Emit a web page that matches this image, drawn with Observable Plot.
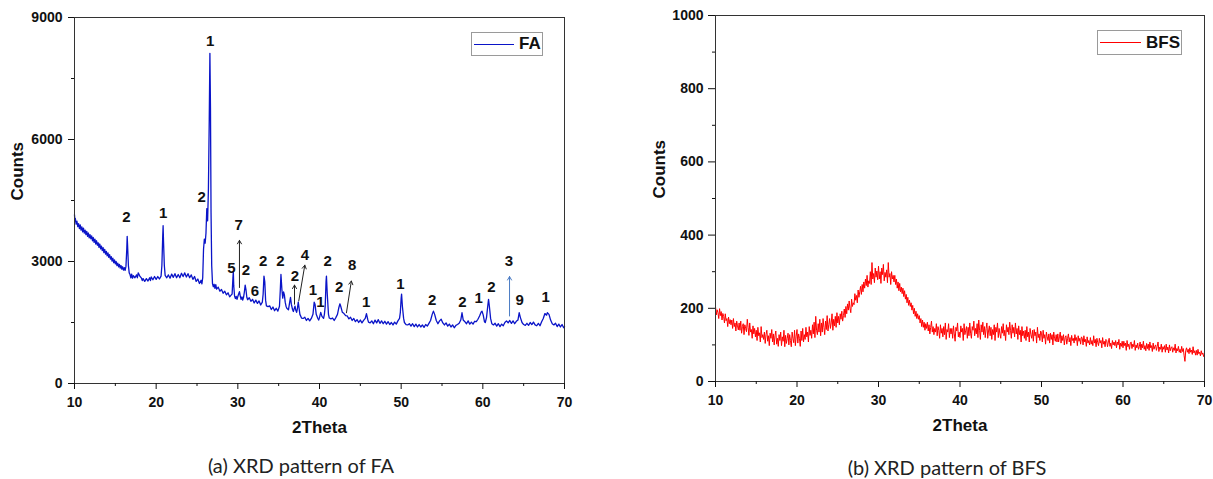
<!DOCTYPE html>
<html><head><meta charset="utf-8">
<script src="https://cdn.jsdelivr.net/npm/d3@7"></script>
<script src="https://cdn.jsdelivr.net/npm/@observablehq/plot@0.6"></script>
<style>
body{margin:0;background:#fff;width:1213px;height:479px;overflow:hidden;position:relative;font-family:"Liberation Sans",Arial,sans-serif;}
#a,#b{position:absolute;top:0}
#a{left:0}
#b{left:600px}
#a svg text,#b svg text{font-family:"Liberation Sans",Arial,sans-serif !important;font-weight:bold !important;fill:#111}
.cap{position:absolute;font-family:Lato,"Liberation Sans",sans-serif;font-size:20px;color:#222;transform:translate(-50%,-50%);white-space:nowrap}
.legend{position:absolute;border:1.5px solid #9a9a9a;background:#fff;box-sizing:border-box;display:flex;align-items:center;font-weight:bold;font-size:17px;color:#111}
.legend .ln{height:0;margin-left:2px;margin-right:5px}
</style>
</head><body>
<div id="a"></div>
<div id="b"></div>
<div class="legend" style="left:471px;top:32px;width:72px;height:24px"><div class="ln" style="width:40px;border-top:1.5px solid #0a14c8"></div><span>FA</span></div>
<div class="legend" style="left:1097px;top:30px;width:85px;height:25px"><div class="ln" style="width:41px;border-top:1.5px solid #ff0000"></div><span>BFS</span></div>
<div class="cap" style="left:301px;top:465px">(a) XRD pattern of FA</div>
<div class="cap" style="left:947px;top:467px">(b) XRD pattern of BFS</div>
<script>
// ---------- FA data: [2theta, counts] ----------
const faPattern = [
[10.0,4150],[10.05,3990],[10.1,4060],[10.2,3920],[10.3,3990],[10.4,3860],[10.5,3930],[10.6,3810],[10.7,3900],[10.8,3770],[10.9,3850],
[11.0,3730],[11.1,3820],[11.2,3700],[11.3,3770],[11.4,3660],[11.5,3740],[11.6,3620],[11.7,3700],[11.8,3580],[11.9,3660],
[12.0,3560],[12.1,3630],[12.2,3510],[12.3,3590],[12.4,3470],[12.5,3550],[12.6,3430],[12.7,3510],[12.8,3400],[12.9,3460],
[13.0,3350],[13.1,3430],[13.2,3310],[13.3,3380],[13.4,3270],[13.5,3340],[13.6,3220],[13.7,3300],[13.8,3180],[13.9,3250],
[14.0,3140],[14.1,3210],[14.2,3100],[14.3,3170],[14.4,3060],[14.5,3120],[14.6,3010],[14.7,3080],[14.8,2970],[14.9,3040],
[15.0,2940],[15.1,3000],[15.2,2900],[15.3,2960],[15.4,2870],[15.5,2930],[15.6,2840],[15.7,2900],[15.8,2810],[15.9,2870],
[16.0,2790],[16.1,2850],[16.2,2780],[16.3,2880],[16.4,3300],[16.45,3620],[16.5,3400],[16.6,2900],[16.7,2720],[16.8,2680],
[16.9,2600],[17.0,2690],[17.1,2590],[17.2,2650],[17.4,2600],[17.6,2670],[17.7,2600],[17.8,2720],[18.0,2640],[18.2,2590],
[18.3,2530],[18.4,2580],[18.6,2510],[18.8,2580],[19.0,2520],[19.2,2600],[19.3,2530],[19.4,2620],[19.6,2550],[19.8,2630],
[20.0,2560],[20.2,2630],[20.4,2570],[20.6,2640],[20.7,2900],[20.8,3600],[20.85,3880],[20.9,3500],[21.0,2900],[21.1,2660],
[21.3,2600],[21.5,2670],[21.7,2590],[21.9,2690],[22.1,2610],[22.3,2700],[22.5,2600],[22.7,2680],[22.9,2600],[23.1,2710],
[23.3,2630],[23.5,2720],[23.7,2620],[23.9,2700],[24.1,2600],[24.3,2670],[24.5,2560],[24.7,2630],[24.9,2510],[25.1,2570],
[25.3,2460],[25.5,2540],[25.6,2450],[25.7,2600],[25.8,3300],[25.9,3550],[26.0,3450],[26.1,3700],[26.2,4300],[26.3,4000],
[26.4,4800],[26.5,6500],[26.58,8120],[26.65,6800],[26.72,4200],[26.8,2900],[26.9,2450],[27.0,2380],[27.1,2440],[27.2,2340],
[27.3,2430],[27.4,2320],[27.6,2370],[27.8,2270],[28.0,2310],[28.2,2220],[28.4,2270],[28.6,2180],[28.8,2230],[29.0,2130],
[29.2,2180],[29.3,2200],[29.4,2600],[29.45,2750],[29.5,2400],[29.6,2150],[29.7,2090],[29.8,2140],[29.9,2070],[30.0,2140],
[30.1,2200],[30.2,2260],[30.3,2150],[30.4,2070],[30.5,2130],[30.6,2050],[30.7,2120],[30.8,2250],[30.9,2420],[31.0,2300],
[31.1,2120],[31.2,2060],[31.4,2110],[31.6,2020],[31.8,2070],[32.0,1980],[32.2,2050],[32.4,1970],[32.6,2030],[32.8,1930],
[33.0,2000],[33.1,2200],[33.2,2640],[33.3,2500],[33.4,2050],[33.5,1910],[33.7,1890],[33.9,1910],[34.1,1820],[34.3,1880],
[34.5,1790],[34.7,1850],[34.9,1780],[35.1,1900],[35.2,2300],[35.28,2680],[35.4,2300],[35.5,2100],[35.6,2250],[35.7,2180],
[35.8,2000],[35.9,1900],[36.0,1850],[36.2,1810],[36.35,2000],[36.45,2120],[36.55,1950],[36.7,1820],[36.8,1770],[36.9,1840],
[37.0,1900],[37.1,1800],[37.2,1750],[37.3,1850],[37.4,2000],[37.5,1850],[37.6,1700],[37.8,1610],[38.0,1600],[38.2,1630],
[38.4,1550],[38.6,1600],[38.8,1540],[39.0,1600],[39.2,1700],[39.35,2000],[39.45,1950],[39.6,1700],[39.8,1600],[39.9,1560],
[40.0,1620],[40.15,1750],[40.3,1650],[40.5,1600],[40.6,1700],[40.7,1900],[40.8,2500],[40.85,2640],[40.95,2200],[41.1,1700],
[41.2,1610],[41.4,1590],[41.6,1610],[41.8,1550],[42.0,1620],[42.2,1700],[42.35,1850],[42.5,1960],[42.6,1900],[42.8,1750],
[43.0,1720],[43.2,1670],[43.4,1660],[43.6,1590],[43.8,1630],[44.0,1550],[44.2,1600],[44.4,1520],[44.6,1570],[44.8,1500],
[45.0,1560],[45.2,1490],[45.4,1550],[45.6,1600],[45.75,1720],[45.9,1580],[46.0,1510],[46.2,1490],[46.4,1540],[46.6,1470],
[46.8,1560],[47.0,1490],[47.2,1570],[47.4,1480],[47.6,1540],[47.8,1470],[48.0,1530],[48.2,1460],[48.4,1520],[48.6,1450],
[48.8,1500],[49.0,1440],[49.2,1510],[49.4,1460],[49.6,1540],[49.8,1600],[49.9,1750],[50.0,2100],[50.05,2200],[50.15,1900],
[50.3,1600],[50.4,1500],[50.6,1450],[50.8,1440],[51.0,1470],[51.2,1410],[51.4,1470],[51.6,1400],[51.8,1460],[52.0,1390],
[52.2,1450],[52.4,1390],[52.6,1440],[52.8,1380],[53.0,1450],[53.2,1410],[53.4,1480],[53.6,1550],[53.8,1700],[53.95,1780],
[54.1,1700],[54.3,1550],[54.5,1470],[54.7,1540],[54.9,1580],[55.1,1490],[55.3,1440],[55.5,1490],[55.7,1410],[55.9,1460],
[56.1,1390],[56.3,1440],[56.5,1370],[56.7,1430],[56.9,1450],[57.1,1480],[57.3,1560],[57.45,1740],[57.6,1560],[57.8,1520],
[58.0,1470],[58.2,1540],[58.4,1460],[58.6,1510],[58.8,1460],[59.0,1530],[59.2,1520],[59.4,1580],[59.6,1660],[59.8,1760],
[59.9,1780],[60.05,1680],[60.2,1520],[60.3,1500],[60.45,1620],[60.6,1900],[60.7,2070],[60.8,1900],[60.95,1600],[61.1,1470],
[61.3,1440],[61.5,1480],[61.7,1410],[61.9,1470],[62.1,1400],[62.3,1460],[62.5,1420],[62.7,1500],[62.9,1540],[63.1,1490],
[63.3,1550],[63.5,1480],[63.7,1540],[63.9,1470],[64.1,1530],[64.3,1560],[64.45,1740],[64.6,1620],[64.8,1500],[65.0,1450],
[65.2,1430],[65.4,1480],[65.6,1430],[65.8,1500],[66.0,1450],[66.2,1510],[66.4,1440],[66.6,1420],[66.8,1480],[67.0,1420],
[67.2,1520],[67.4,1600],[67.6,1720],[67.8,1680],[67.9,1740],[68.1,1700],[68.3,1560],[68.5,1470],[68.7,1440],[68.9,1480],
[69.1,1400],[69.3,1460],[69.5,1390],[69.7,1450],[69.9,1370],[70.0,1400]
];

// Phase labels on the FA pattern
const faLabelText   = ["2","1","2","1","7","5","2","6","2","2","4","2","1","1","2","8","2","1","1","2","2","1","2","3","9","1"];
const faLabelTheta  = [16.35,20.86,25.56,26.6,30.1,29.2,31.0,32.1,33.1,35.2,38.2,37.0,39.2,40.1,41.0,44.0,42.4,45.7,49.9,53.8,57.5,59.5,61.05,63.2,64.5,67.7];
const faLabelCounts = [4080,4200,4570,8415,3890,2830,2780,2270,3000,3000,3160,2640,2290,1990,3000,2910,2360,1990,2450,2050,2000,2110,2360,3010,2050,2130];

// Arrows: start (theta, counts) -> end (theta, counts)
const faArrowTheta1  = [30.2, 36.94, 37.46, 43.3, 63.27];
const faArrowCounts1 = [2360, 1950, 2030, 1740, 1660];
const faArrowTheta2  = [30.2, 36.94, 38.2, 43.9, 63.27];
const faArrowCounts2 = [3520, 2420, 2910, 2520, 2630];
const faArrowColor   = ["#222","#222","#222","#222","#4a7bc4"];

// ---------- BFS data: counts from 10 to 70 deg in 0.1 deg steps ----------
const bfsStart = 10, bfsStep = 0.1;
const bfsCounts = [
205,182,196,188,172,199,180,191,168,186,
178,160,185,166,172,150,176,158,169,155,
168,145,172,150,160,138,165,152,141,160,
140,165,132,150,158,128,155,145,136,170,
148,126,160,135,142,118,152,130,145,122,
140,112,148,125,133,108,150,120,128,115,
135,104,128,140,110,125,98,132,118,142,
108,130,100,125,138,102,118,96,128,112,
135,98,122,110,140,95,126,104,118,132,
100,128,112,95,135,118,106,140,98,124,
142,105,130,118,96,138,112,145,108,128,
115,148,122,135,108,150,126,140,118,155,
130,162,120,178,140,128,158,135,170,125,
160,135,172,148,128,165,142,180,138,155,
172,145,160,185,140,170,152,178,148,188,
160,178,155,185,170,192,165,180,198,175,
205,185,212,195,220,200,188,225,205,215,
210,240,222,235,215,250,230,245,260,238,
265,245,272,255,280,262,290,258,275,268,
300,265,325,280,295,270,310,285,302,278,
315,280,300,268,310,292,320,275,298,285,
305,270,325,285,295,265,300,280,290,272,
290,265,280,255,272,248,268,245,258,240,
255,232,248,225,238,215,230,208,222,205,
215,195,208,185,200,178,192,172,185,170,
180,160,172,150,168,148,162,140,158,145,
162,138,155,130,148,165,135,150,128,145,
135,158,125,150,140,118,155,132,145,122,
150,128,160,115,142,135,158,120,145,130,
145,118,152,130,110,148,138,160,122,135,
120,152,135,145,112,158,128,140,150,118,
148,125,160,132,118,150,140,165,125,145,
130,158,120,168,140,115,155,135,162,128,
150,120,145,160,118,138,152,125,148,115,
142,128,155,112,148,135,160,120,145,130,
118,150,132,158,125,140,112,155,135,148,
128,162,140,118,155,132,148,122,160,130,
145,115,152,128,140,108,150,125,138,118,
140,112,150,122,135,108,145,128,118,140,
110,142,125,135,105,148,120,130,112,138,
132,108,140,118,128,102,135,122,112,130,
105,132,115,128,100,135,118,110,128,108,
130,108,122,135,105,125,112,128,100,120,
125,102,118,130,108,120,98,126,112,118,
105,128,112,120,98,125,110,118,102,122,
118,100,125,108,115,96,122,105,112,100,
120,102,112,98,125,105,115,95,118,106,
98,118,105,112,92,120,102,110,95,115,
112,95,108,118,96,105,90,112,100,108,
98,112,92,108,100,115,88,105,96,110,
92,110,98,105,85,112,95,102,88,106,
108,90,102,95,112,85,100,92,105,88,
95,108,86,102,92,110,88,98,84,104,
90,102,85,108,92,98,82,105,88,96,
100,85,96,108,82,94,88,102,80,95,
88,98,80,102,86,94,78,100,84,92,
95,80,92,85,102,78,90,84,96,80,
88,78,96,82,90,70,55,85,92,80,
88,76,92,80,86,74,95,78,84,72,
85,72,88,76,80,70,84,74,78,68,
74
];

// ---------- axes ----------
const xMajor = [10,20,30,40,50,60,70];
const xMinor = [15,25,35,45,55,65];
const faYMajor = [0,3000,6000,9000];
const faYMinor = [1500,4500,7500];
const bfsYMajor = [0,200,400,600,800,1000];
const bfsYMinor = [100,300,500,700,900];

const faData = faPattern.map(([t, c]) => ({t, c}));
const bfsData = bfsCounts.map((c, i) => ({t: bfsStart + i * bfsStep, c}));
const faLabels = faLabelText.map((s, i) => ({s, t: faLabelTheta[i], c: faLabelCounts[i]}));
const faArrows = faArrowTheta1.map((t1, i) => ({t1, c1: faArrowCounts1[i], t2: faArrowTheta2[i], c2: faArrowCounts2[i], col: faArrowColor[i]}));

const baseStyle = {fontFamily: "Liberation Sans, Arial, sans-serif", fontSize: "14px", fontWeight: "bold", color: "#111", background: "white", overflow: "visible"};
const fmt = d => String(d);
const tf = {fontFamily: "Liberation Sans, Arial, sans-serif", fontWeight: "bold", fontSize: 14};

const faPlot = Plot.plot({
  width: 600, height: 445,
  marginLeft: 74, marginRight: 36, marginTop: 17, marginBottom: 62,
  style: baseStyle,
  x: {domain: [10, 70]},
  y: {domain: [0, 9000]},
  marks: [
    Plot.line(faData, {x: "t", y: "c", stroke: "#0a14c8", strokeWidth: 1.3}),
    Plot.arrow(faArrows, {x1: "t1", y1: "c1", x2: "t2", y2: "c2", stroke: "col", strokeWidth: 1, headLength: 6}),
    Plot.text(faLabels, {x: "t", y: "c", text: "s", fontSize: 15, fontWeight: "bold", fill: "#111"}),
    Plot.frame({stroke: "#333", strokeWidth: 1}),
    Plot.axisX({ticks: xMajor, tickSize: 6, tickPadding: 8, tickFormat: fmt, label: null, ...tf}),
    Plot.axisX({ticks: xMinor, tickSize: 3, tickFormat: () => "", label: null}),
    Plot.axisY({ticks: faYMajor, tickSize: 6, tickPadding: 6, tickFormat: fmt, label: null, ...tf}),
    Plot.axisY({ticks: faYMinor, tickSize: 3, tickFormat: () => "", label: null}),
    Plot.text(["Counts"], {text: d => d, frameAnchor: "left", dx: -57, rotate: -90, fontSize: 17, fontWeight: "bold", fill: "#111"}),
    Plot.text(["2Theta"], {text: d => d, frameAnchor: "bottom", dy: 49, fontSize: 17, fontWeight: "bold", fill: "#111"})
  ]
});
document.getElementById("a").append(faPlot);

const bfsPlot = Plot.plot({
  width: 613, height: 445,
  marginLeft: 115, marginRight: 9, marginTop: 15, marginBottom: 64,
  style: baseStyle,
  x: {domain: [10, 70]},
  y: {domain: [0, 1000]},
  marks: [
    Plot.line(bfsData, {x: "t", y: "c", stroke: "#ff0000", strokeWidth: 1}),
    Plot.frame({stroke: "#333", strokeWidth: 1}),
    Plot.axisX({ticks: xMajor, tickSize: 6, tickPadding: 8, tickFormat: fmt, label: null, ...tf}),
    Plot.axisX({ticks: xMinor, tickSize: 3, tickFormat: () => "", label: null}),
    Plot.axisY({ticks: bfsYMajor, tickSize: 7, tickPadding: 5, tickFormat: fmt, label: null, ...tf}),
    Plot.axisY({ticks: bfsYMinor, tickSize: 3, tickFormat: () => "", label: null}),
    Plot.text(["Counts"], {text: d => d, frameAnchor: "left", dx: -56, rotate: -90, fontSize: 17, fontWeight: "bold", fill: "#111"}),
    Plot.text(["2Theta"], {text: d => d, frameAnchor: "bottom", dy: 49, fontSize: 17, fontWeight: "bold", fill: "#111"})
  ]
});
document.getElementById("b").append(bfsPlot);
</script>
</body></html>
